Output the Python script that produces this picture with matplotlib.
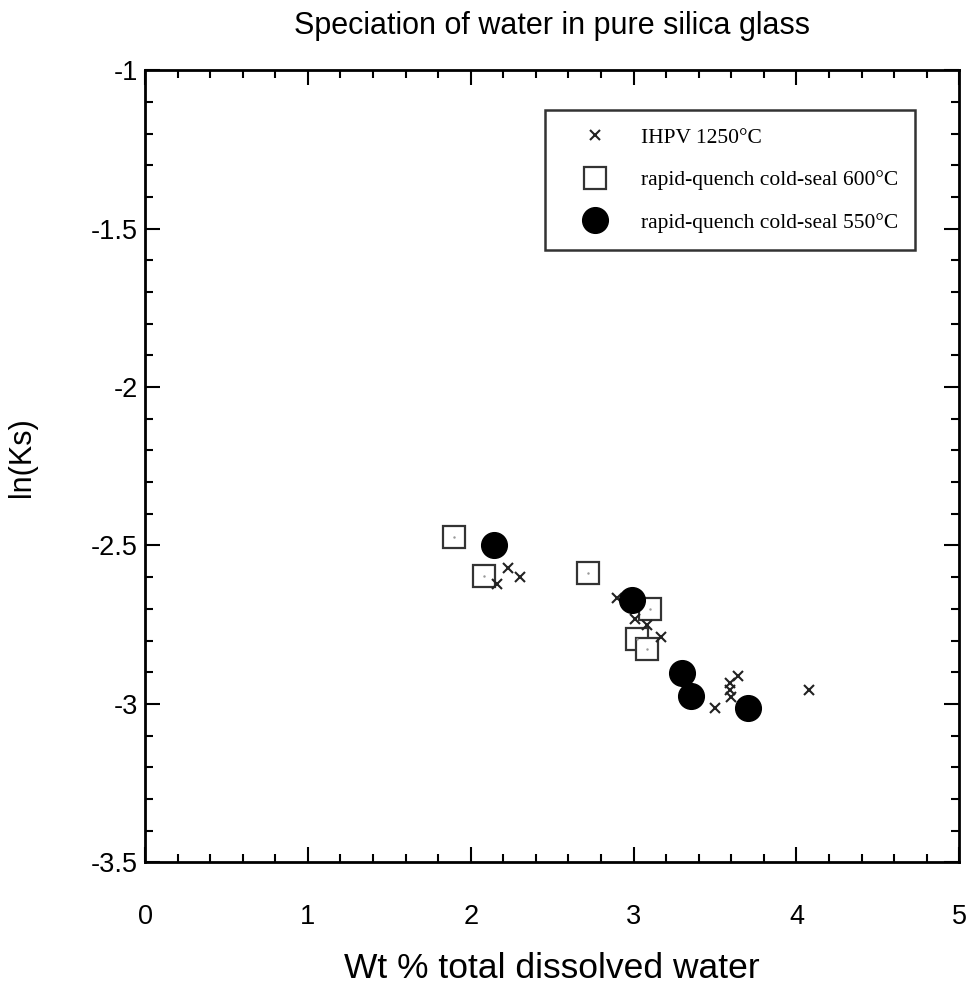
import matplotlib
matplotlib.use("Agg")
import matplotlib.pyplot as plt
from matplotlib.ticker import MultipleLocator, FuncFormatter

# IHPV 1250°C
ihpv_x = [2.23, 2.30, 2.16, 2.90, 3.01, 3.08, 3.17, 3.50, 3.64, 3.59, 3.59, 3.60, 4.08]
ihpv_y = [-2.572, -2.600, -2.622, -2.667, -2.733, -2.752, -2.790, -3.014, -2.913, -2.935, -2.957, -2.979, -2.957]
# rapid-quench cold-seal 600°C
sq_x = [1.90, 2.08, 2.72, 3.10, 3.02, 3.08]
sq_y = [-2.474, -2.597, -2.588, -2.701, -2.796, -2.828]
# rapid-quench cold-seal 550°C
ci_x = [2.14, 2.99, 3.30, 3.35, 3.70]
ci_y = [-2.499, -2.673, -2.903, -2.976, -3.014]

title = "Speciation of water in pure silica glass"
xlabel = "Wt % total dissolved water"
ylabel = "ln(Ks)"
labels = ["IHPV 1250°C", "rapid-quench cold-seal 600°C", "rapid-quench cold-seal 550°C"]

fig = plt.figure(figsize=(9.67, 9.90), dpi=100)
ax = fig.add_axes([0.150, 0.129, 0.842, 0.800])

ax.plot(ihpv_x, ihpv_y, linestyle="none", marker="x", markersize=7, markeredgewidth=1.5,
        color="#222222", label=labels[0], zorder=3)
ax.plot(sq_x, sq_y, linestyle="none", marker="s", markersize=16.5, markerfacecolor="white",
        markeredgecolor="#333333", markeredgewidth=1.6, label=labels[1], zorder=2)
ax.plot(sq_x, sq_y, linestyle="none", marker=".", markersize=1.5, color="#999999", zorder=2.5)
ax.plot(ci_x, ci_y, linestyle="none", marker="o", markersize=18.5, color="black", label=labels[2], zorder=4)

ax.set_xlim(0, 5)
ax.set_ylim(-3.5, -1)
ax.xaxis.set_major_locator(MultipleLocator(1))
ax.xaxis.set_minor_locator(MultipleLocator(0.2))
ax.yaxis.set_major_locator(MultipleLocator(0.5))
ax.yaxis.set_minor_locator(MultipleLocator(0.1))
ax.xaxis.set_major_formatter(FuncFormatter(lambda v, p: f"{v:g}"))
ax.yaxis.set_major_formatter(FuncFormatter(lambda v, p: f"{v:g}"))

ax.tick_params(which="both", direction="in", top=True, right=True, width=1.5, colors="black")
ax.tick_params(which="major", length=11, labelsize=19.5)
ax.tick_params(axis="x", which="major", pad=30)
ax.tick_params(axis="y", which="major", pad=5)
ax.tick_params(which="minor", length=6)
for lab in ax.get_xticklabels() + ax.get_yticklabels():
    lab.set_fontfamily("Liberation Sans")
for s in ax.spines.values():
    s.set_linewidth(2)

ax.set_title(title, fontsize=22, fontfamily="Liberation Sans", pad=26)
ax.set_xlabel(xlabel, fontsize=25.5, fontfamily="Liberation Sans", labelpad=16)
ax.set_ylabel(ylabel, fontsize=22, fontfamily="Liberation Sans")
ax.yaxis.set_label_coords(-0.133, 0.511)

leg = ax.legend(loc="upper right", bbox_to_anchor=(0.946, 0.9495), frameon=True, fancybox=False,
                prop={"family": "Liberation Serif", "size": 15.5}, borderpad=0.8, borderaxespad=0,
                labelspacing=1.05, handlelength=3.0, handletextpad=0.65, markerscale=1.0)
leg.get_frame().set_edgecolor("black")
leg.get_frame().set_linewidth(1.8)

fig.savefig("out.png", dpi=100)
